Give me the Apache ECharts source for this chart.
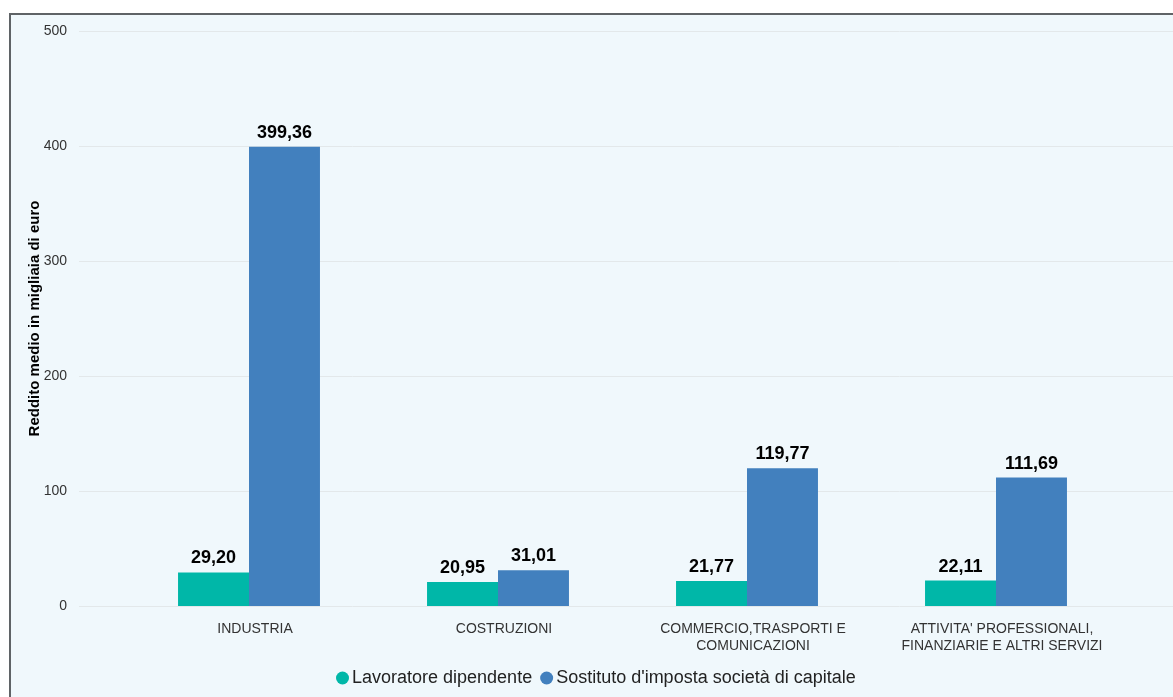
<!DOCTYPE html>
<html>
<head>
<meta charset="utf-8">
<script src="https://cdn.jsdelivr.net/npm/echarts@6/dist/echarts.min.js"></script>
<style>
  html, body { margin: 0; padding: 0; background: #ffffff; overflow: hidden; }
  #frame {
    position: absolute; left: 9px; top: 13px; width: 1300px; height: 800px;
    border-left: 2px solid #5f6366; border-top: 2px solid #5f6366;
    background: #f0f8fc;
  }
  #chart { position: absolute; left: 0; top: 0; width: 1173px; height: 697px; }
</style>
</head>
<body>
<div id="frame"></div>
<div id="chart"></div>
<script>
// Settori di attività
const categories = [
  'INDUSTRIA',
  'COSTRUZIONI',
  'COMMERCIO,TRASPORTI E\nCOMUNICAZIONI',
  "ATTIVITA' PROFESSIONALI,\nFINANZIARIE E ALTRI SERVIZI"
];
const seriesNames = ['Lavoratore dipendente', "Sostituto d'imposta società di capitale"];
// Reddito medio (migliaia di euro)
const lavoratoreDipendente = [29.20, 20.95, 21.77, 22.11];
const sostitutoImposta = [399.36, 31.01, 119.77, 111.69];
const yTicks = { min: 0, max: 500, interval: 100 };
const yAxisTitle = 'Reddito medio in migliaia di euro';

const fmt = v => v.toFixed(2).replace('.', ',');
const font = 'Liberation Sans, Arial, sans-serif';

const valueLabel = {
  show: true, position: 'top', distance: 5, formatter: p => fmt(p.value),
  fontSize: 18, fontWeight: 'bold', color: '#000', fontFamily: font
};

const chart = echarts.init(document.getElementById('chart'));
chart.setOption({
  animation: false,
  textStyle: { fontFamily: font },
  legend: {
    data: seriesNames,
    left: 331,
    bottom: 5,
    icon: 'circle',
    itemWidth: 13,
    itemHeight: 13,
    itemGap: 8,
    textStyle: { fontSize: 18, color: '#222', fontFamily: font, padding: [0, 0, 0, -2] }
  },
  grid: [
    { left: 79, right: -5, top: 31, bottom: 91 },
    { left: 124.5, width: 996, top: 31, bottom: 91 }
  ],
  xAxis: [
    { gridIndex: 0, type: 'value', show: false },
    {
      gridIndex: 1, type: 'category', data: categories,
      axisLine: { show: false }, axisTick: { show: false },
      axisLabel: { fontSize: 14, color: '#333', lineHeight: 17, margin: 15, fontFamily: font,
                   interval: 0, padding: [0, 0, 0, 12] }
    }
  ],
  yAxis: [
    {
      gridIndex: 0, type: 'value', min: yTicks.min, max: yTicks.max, interval: yTicks.interval,
      name: yAxisTitle, nameLocation: 'middle', nameRotate: 90, nameGap: 37,
      nameMoveOverlap: false,
      nameTextStyle: { fontSize: 15, fontWeight: 'bold', color: '#000', fontFamily: font },
      axisLine: { show: false }, axisTick: { show: false },
      axisLabel: { fontSize: 14, color: '#333', margin: 12, fontFamily: font },
      splitLine: { lineStyle: { color: '#e3e8ea', width: 1 } }
    },
    {
      gridIndex: 1, type: 'value', min: yTicks.min, max: yTicks.max, interval: yTicks.interval,
      show: false, splitLine: { show: false }
    }
  ],
  series: [
    {
      name: seriesNames[0], type: 'bar', xAxisIndex: 1, yAxisIndex: 1,
      data: lavoratoreDipendente, barGap: '0%', barCategoryGap: '43%',
      itemStyle: { color: '#00b7a8' },
      label: valueLabel
    },
    {
      name: seriesNames[1], type: 'bar', xAxisIndex: 1, yAxisIndex: 1,
      data: sostitutoImposta, barGap: '0%', barCategoryGap: '43%',
      itemStyle: { color: '#4280be' },
      label: valueLabel
    }
  ]
});
</script>
</body>
</html>
